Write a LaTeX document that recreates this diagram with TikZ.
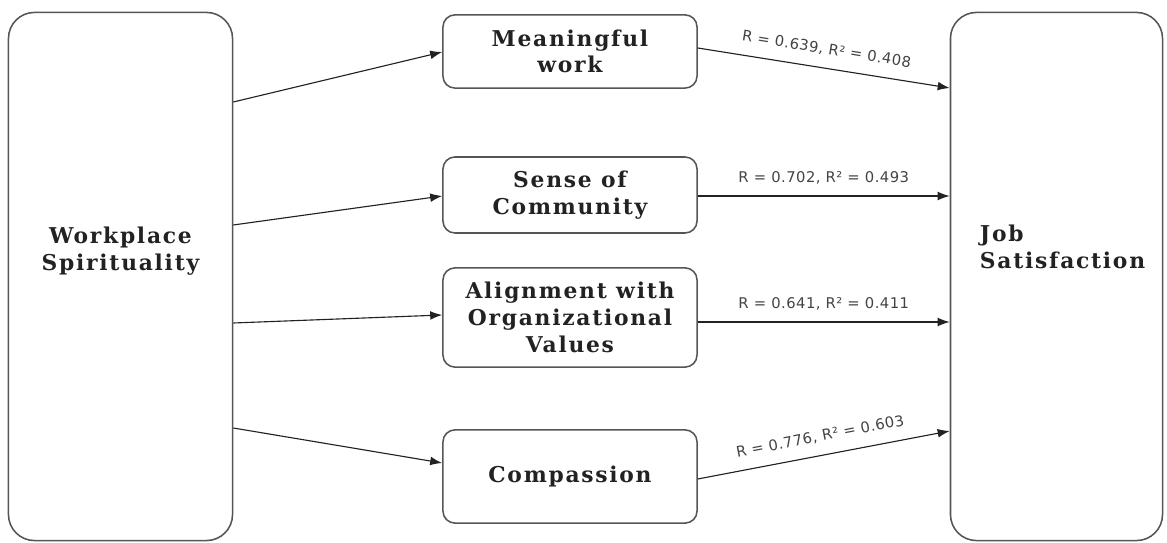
\documentclass[tikz,border=0pt]{standalone}
\usepackage{fontspec}
\usepackage{tikz}
\usetikzlibrary{arrows.meta, positioning, calc}
\newfontfamily\boxfont[LetterSpace=8.0]{DejaVu Serif}
\newfontfamily\lblfont[LetterSpace=3.0]{DejaVu Sans}
\definecolor{edge}{HTML}{555555}
\definecolor{ink}{HTML}{222222}

\begin{document}
\begin{tikzpicture}[
    x=0.025cm, y=-0.025cm,
    bigbox/.style={rectangle, draw=edge, line width=1.1pt, rounded corners=0.65cm, minimum width=5.6cm, minimum height=13.2cm},
    midbox/.style={rectangle, draw=edge, line width=1.1pt, rounded corners=0.3cm, minimum width=6.35cm},
    boxtext/.style={font=\boxfont\bfseries\fontsize{15.5}{19}\selectfont, text=ink},
    rlabel/.style={font=\lblfont\fontsize{10.5}{12}\selectfont, text=ink!85, sloped, above=5pt},
    arrow/.style={-{Latex[length=3mm,width=2.2mm]}, draw=ink, line width=0.8pt}
  ]
    \useasboundingbox (0,0) rectangle (1167,543);

    % outer boxes
    \node[bigbox] (ws) at (120.5,276.5) {};
    \node[bigbox, minimum width=5.3cm] (js) at (1056.5,276.5) {};
    \node[boxtext, align=center] (wstext) at (120.5,251) {Workplace\\Spirituality};
    \node[boxtext, align=left, anchor=west] (jstext) at (975,247) {Job\\Satisfaction};

    % dimensions
    \node[midbox, minimum height=1.83cm] (mw) at (570,51.5) {};
    \node[boxtext, align=center] at (mw) {Meaningful\\work};
    \node[midbox, minimum height=1.9cm] (sc) at (570,195) {};
    \node[boxtext, align=center] at (sc) {Sense of\\Community};
    \node[midbox, minimum height=2.48cm] (ov) at (570,317.5) {};
    \node[boxtext, align=center] at (ov) {Alignment with\\Organizational\\Values};
    \node[midbox, minimum height=2.33cm] (cp) at (570,476.5) {};
    \node[boxtext] at (cp) {Compassion};

    \draw[arrow] (ws.east |- 0,102) -- (mw.west |- 0,52);
    \draw[arrow] (ws.east |- 0,225) -- (sc.west |- 0,196);
    \draw[arrow] (ws.east |- 0,323) -- (ov.west |- 0,315);
    \draw[arrow] (ws.east |- 0,428) -- (cp.west |- 0,463);

    \draw[arrow] (mw.east |- 0,48) -- node[rlabel] {R = 0.639, R² = 0.408} (js.west |- 0,88);
    \draw[arrow] (sc.east |- 0,196) -- node[rlabel] {R = 0.702, R² = 0.493} (js.west |- 0,196);
    \draw[arrow] (ov.east |- 0,322) -- node[rlabel] {R = 0.641, R² = 0.411} (js.west |- 0,322);
    \draw[arrow] (cp.east |- 0,479) -- node[rlabel] {R = 0.776, R² = 0.603} (js.west |- 0,431);
  \end{tikzpicture}
\end{document}
